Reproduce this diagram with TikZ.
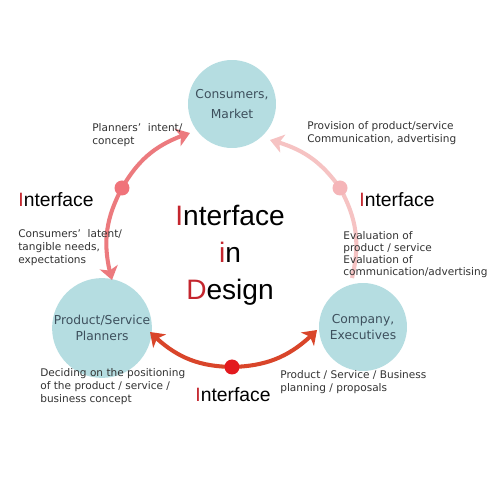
\documentclass[tikz,border=0pt]{standalone}
\usepackage{fontspec}
\setmainfont{Liberation Sans}
\newfontfamily\gothic{DejaVu Sans}
\usepackage{xcolor}
\usepackage{tikz}
\usetikzlibrary{arrows.meta,bending}
\definecolor{Disc}{HTML}{B5DDE1}
\definecolor{DiscText}{HTML}{3D4F5C}
\definecolor{ArcL}{HTML}{EC7A7E}
\definecolor{DotL}{HTML}{F0737A}
\definecolor{ArcR}{HTML}{F6C3C3}
\definecolor{DotR}{HTML}{F5B5B8}
\definecolor{ArcB}{HTML}{D9452A}
\definecolor{DotB}{HTML}{E3191E}
\definecolor{Initial}{HTML}{C4262E}

\begin{document}
\begin{tikzpicture}[x=0.02cm, y=0.02cm,
  party/.style={circle, fill=Disc, minimum size=1.76cm, inner sep=0pt, text=DiscText, align=center, font=\gothic\fontsize{7}{9.5}\selectfont},
  note/.style={anchor=north west, inner sep=0pt, align=left, text=black!80, font=\gothic\fontsize{6}{7.4}\selectfont},
  iface/.style={inner sep=0pt, font=\fontsize{11}{13}\selectfont},
  title/.style={anchor=base, inner sep=0pt, font=\fontsize{16}{19}\selectfont},
  flow/.style={line width=2.3pt, -{Stealth[length=7.5pt,width=10.5pt,inset=2pt]}},
  dot/.style={circle, inner sep=0pt, minimum size=0.3cm}]
\fill[white] (0,0) rectangle (500,500);%
\useasboundingbox (0,0) rectangle (500,500);%
% the three parties
\node[party, font=\gothic\fontsize{7}{11}\selectfont] (cons) at (232,396) {Consumers,\\Market};%
\node[party] (plan) at (102,172) {Product/Service\\Planners};%
\node[party] (comp) at (363,173) {Company,\\Executives};%
% where the flows meet
\coordinate (ldot) at (122,312);%
\coordinate (rdot) at (340,312);%
\coordinate (bdot) at (232,133);%
\coordinate (ltop) at (190,367);%
\coordinate (lbot) at (112,220);%
\coordinate (rtop) at (270,360);%
\coordinate (rbot) at (352,222);%
\coordinate (bleft) at (150,168);%
\coordinate (bright) at (317,170);%
% flows
\draw[flow, ArcL] (ldot) to[bend left=21] (ltop);%
\draw[flow, ArcL] (ldot) to[bend right=22] (lbot);%
\draw[flow, ArcR] (rdot) to[bend right=20] (rtop);%
\draw[line width=2.3pt, ArcR] (rdot) to[bend left=21] (rbot);%
\draw[flow, ArcB] (bdot) to[bend left=22] (bleft);%
\draw[flow, ArcB] (bdot) to[bend right=22] (bright);%
\node[dot, fill=DotL] (ldotc) at (ldot) {};%
\node[dot, fill=DotR] (rdotc) at (rdot) {};%
\node[dot, fill=DotB] (bdotc) at (bdot) {};%
% interface labels
\node[iface] (lface) at (56,300) {\textcolor{Initial}{I}nterface};%
\node[iface] (rface) at (397,300) {\textcolor{Initial}{I}nterface};%
\node[iface] (bface) at (233,105) {\textcolor{Initial}{I}nterface};%
\node[title] (t1) at (230,274) {\textcolor{Initial}{I}nterface};%
\node[title] (t2) at (230,237) {\textcolor{Initial}{i}n};%
\node[title] (t3) at (230,200) {\textcolor{Initial}{D}esign};%
% notes
\node[note] (n1) at (92,377) {Planners’\ \ intent/\\concept};%
\node[note] (n2) at (18,271) {Consumers’\ \ latent/\\tangible needs,\\expectations};%
\node[note] (n3) at (307,379) {Provision of product/service\\Communication, advertising};%
\node[note, font=\gothic\fontsize{6}{6.8}\selectfont] (n4) at (343,269) {Evaluation of\\product / service\\Evaluation of\\communication/advertising};%
\node[note] (n5) at (40,132) {Deciding on the positioning\\of the product / service /\\business concept};%
\node[note] (n6) at (280,130) {Product / Service / Business\\planning / proposals};%
\end{tikzpicture}
\end{document}
